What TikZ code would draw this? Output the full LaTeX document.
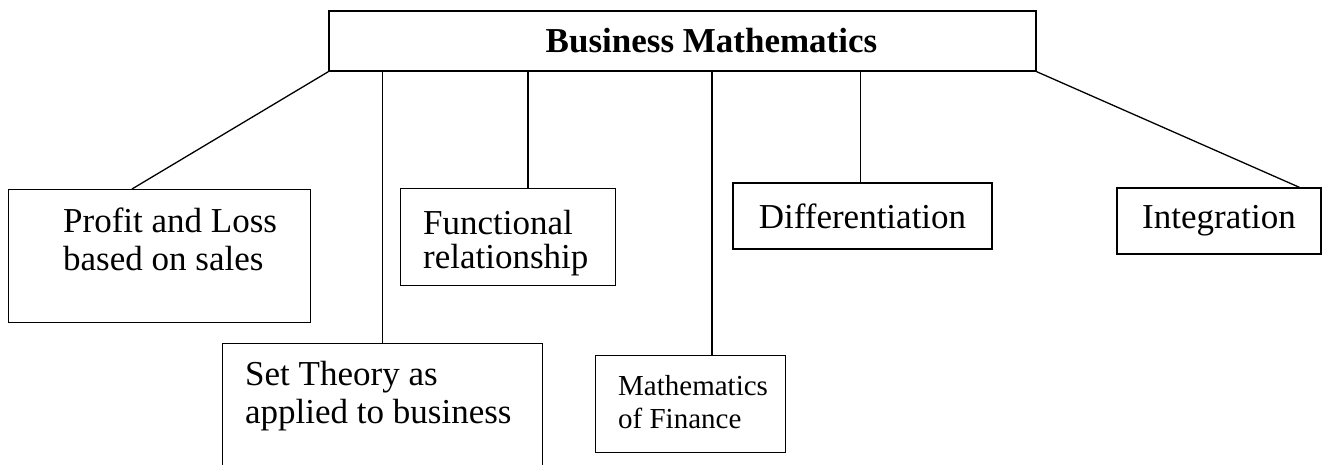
\documentclass[tikz,border=0pt]{standalone}
\usepackage{fontspec}
\setmainfont{Liberation Serif}
\begin{document}
\begin{tikzpicture}[x=1pt,y=-1pt,
  box/.style={draw, line width=1.4pt, inner sep=0pt, anchor=north west, fill=white},
  txt/.style={inner sep=0pt, anchor=north west, align=left, font=\fontsize{35}{38}\selectfont},
  small/.style={inner sep=0pt, anchor=north west, align=left, font=\fontsize{29}{33}\selectfont},
  conn/.style={line width=1.3pt}]
\useasboundingbox (0,0) rectangle (1324,465);
% top box
\node[box, anchor=center, minimum width=707pt, minimum height=60pt,
      font=\bfseries\fontsize{35}{38}\selectfont] (top) at (682.5,41) {\hspace*{58pt}Business Mathematics};
% child boxes
\node[box, minimum width=302pt, minimum height=133pt] (profit) at (8,189) {};
\node[txt] (profittext) at (63,208) {Profit and Loss\\based on sales};
\node[box, minimum width=320pt, minimum height=140pt] (set) at (222,343) {};
\node[txt] (settext) at (245,361) {Set Theory as\\applied to business};
\node[box, minimum width=215pt, minimum height=97pt] (func) at (400,188) {};
\node[txt, font=\fontsize{35}{34}\selectfont] (functext) at (423,210) {Functional\\relationship};
\node[box, minimum width=190pt, minimum height=97pt] (fin) at (595,355) {};
\node[small] (fintext) at (618,375) {Mathematics\\of Finance};
\node[box, anchor=center, minimum width=259pt, minimum height=66pt,
      font=\fontsize{35}{38}\selectfont] (diff) at (862.5,216) {Differentiation};
\node[box, anchor=center, minimum width=204pt, minimum height=66pt,
      font=\fontsize{35}{38}\selectfont] (integ) at (1219,221) {Integration};
% connectors
\draw[conn] (top.south west) -- ([xshift=124pt]profit.north west);
\draw[conn] (top.south -| set.north) -- (set.north);
\draw[conn] ([xshift=128pt]func.north west |- top.south) -- ([xshift=128pt]func.north west);
\draw[conn] ([xshift=117pt]fin.north west |- top.south) -- ([xshift=117pt]fin.north west);
\draw[conn] ([xshift=-2pt]diff.north |- top.south) -- ([xshift=-2pt]diff.north);
\draw[conn] (top.south east) -- ([xshift=183pt]integ.north west);
\end{tikzpicture}
\end{document}
